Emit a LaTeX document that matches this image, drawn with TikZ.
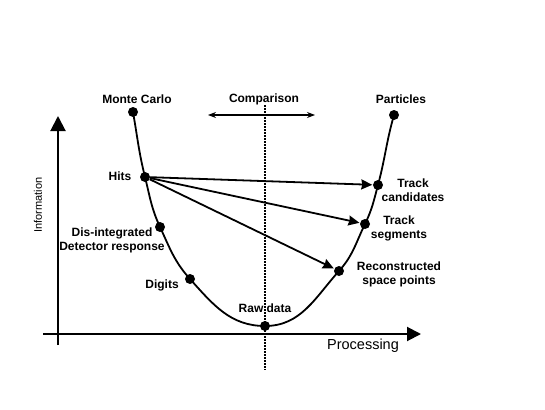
\documentclass[tikz,border=0pt]{standalone}
\usepackage{fontspec}
\setsansfont{Liberation Sans}
\usetikzlibrary{arrows.meta,positioning}
\definecolor{ink}{HTML}{000000}

\begin{document}
\begin{tikzpicture}[x=1pt,y=-1pt,font=\sffamily,
    dot/.style={circle,fill=ink,inner sep=0pt,minimum size=10pt},
    lbl/.style={ink,font=\sffamily\bfseries\fontsize{12}{14}\selectfont,align=center,inner sep=0pt},
    track/.style={ink,line width=1.8pt,-{Stealth[length=11pt,width=10pt,inset=1pt]},shorten >=0.5pt}]
  \useasboundingbox (0,0) rectangle (545,409);

  % axes, pixel grid of the original, y downwards
  \coordinate (xs) at (43,334);  \coordinate (xe) at (421,334);
  \coordinate (ys) at (58,345);  \coordinate (ye) at (58,116);
  \draw[ink,line width=2pt,-{Triangle[length=14pt,width=14pt]}] (xs) -- (xe);
  \draw[ink,line width=2pt,-{Triangle[length=15pt,width=15pt]}] (ys) -- (ye);
  \node[ink,font=\sffamily\fontsize{14.5}{16}\selectfont] (proc) at (363,346) {Processing};
  \node[ink,font=\sffamily\fontsize{11}{13}\selectfont,rotate=90] (info) at (38,205) {Information};

  % comparison line
  \coordinate (ctop) at (265,105); \coordinate (cbot) at (265,370);
  \draw[ink,line width=1.8pt,dash pattern=on 1.6pt off 1.4pt] (ctop) -- (cbot);
  \coordinate (cl) at (208,115); \coordinate (cr) at (315,115);
  \draw[ink,line width=1.2pt,{Stealth[length=8pt,width=6pt]}-{Stealth[length=8pt,width=6pt]}] (cl) -- (cr);
  \node[lbl] (cmp) at (264,99) {Comparison};

  % stages along the U
  \node[dot] (mc)     at (133,112) {};
  \node[dot] (hits)   at (145,177) {};
  \node[dot] (dis)    at (160,227) {};
  \node[dot] (digits) at (190,279) {};
  \node[dot] (raw)    at (265,326) {};
  \node[dot] (reco)   at (339,271) {};
  \node[dot] (seg)    at (365,224) {};
  \node[dot] (cand)   at (378,185) {};
  \node[dot] (part)   at (394,115) {};

  % angles are on the page (y is flipped)
  \draw[ink,line width=1.8pt]
       (mc.center) to[out=-80,in=104] (hits.center)
       to[out=-76,in=115] (dis.center)
       to[out=-65,in=132] (digits.center)
       to[out=-48,in=180] (raw.center)
       to[out=0,in=228] (reco.center)
       to[out=48,in=244] (seg.center)
       to[out=64,in=255] (cand.center)
       to[out=75,in=254] (part.center);

  \node[lbl] (mclbl)   at (137,99)  {Monte Carlo};
  \node[lbl] (hitlbl)  at (120,176) {Hits};
  \node[lbl] (dislbl)  at (112,240) {Dis-integrated\\Detector response};
  \node[lbl] (diglbl)  at (162,285) {Digits};
  \node[lbl] (rawlbl)  at (265,308) {Raw data};
  \node[lbl] (recolbl) at (399,274) {Reconstructed\\space points};
  \node[lbl] (seglbl)  at (399,228) {Track\\segments};
  \node[lbl] (candlbl) at (413,190) {Track\\candidates};
  \node[lbl] (partlbl) at (401,99)  {Particles};

  % reconstruction starts from hits
  \draw[track] (hits) -- (cand);
  \draw[track] (hits) -- (seg);
  \draw[track] (hits) -- (reco);
\end{tikzpicture}
\end{document}
